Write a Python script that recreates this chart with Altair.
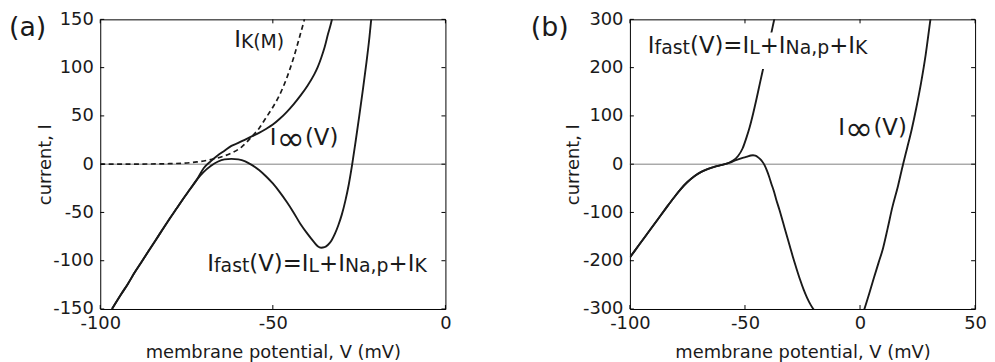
import altair as alt
import pandas as pd

# ---------------- data: panel (a) ----------------
A_XR = (-100, 0)
A_YR = (-150, 150)
A_XTICKS = [-100, -50, 0]
A_YTICKS = [-150, -100, -50, 0, 50, 100, 150]

a_shared_V = [-96.6, -94, -92, -90, -88, -86, -84, -82, -80, -78, -76, -74, -72]
a_shared_I = [-150, -135, -124, -112, -101, -90, -79, -68, -57, -46.5, -36, -26, -16]

a_fast_V = [-70, -68, -66, -64, -62, -60, -58, -56, -54, -52, -50, -48, -46, -44, -42, -40,
            -38, -37, -36, -35, -34, -33, -32, -31, -30, -29, -28, -27, -26, -25, -24, -23, -22, -21.5]
a_fast_I = [-8, -2, 2.5, 5, 5.5, 5, 3, -1, -6, -12.5, -20, -29, -39, -50, -62, -72,
            -81, -85, -86.5, -86, -83.5, -79, -72, -63, -52, -38, -21, 0, 24, 49, 75, 102, 132, 150]

a_inf_V = [-70, -68, -66, -64, -62, -60, -58, -56, -54, -52, -50, -48, -46, -44, -42, -40,
           -38, -37, -36, -35, -34, -33, -32.7]
a_inf_I = [-4, 3, 9, 14, 19, 22, 25.5, 29, 32.5, 36.5, 41, 47, 54, 62, 71, 81,
           93, 100.5, 110, 121, 135, 148, 153]

a_km_V = [-100, -90, -80, -76, -72, -68, -65, -62, -59, -56, -54, -52, -50, -48, -46, -44, -42, -41, -40.6]
a_km_I = [0, 0.1, 0.5, 1, 2.3, 4.8, 7.5, 11.5, 18, 29, 37, 48, 59, 72, 89, 110, 135, 148, 154]

# ---------------- data: panel (b) ----------------
B_XR = (-100, 50)
B_YR = (-300, 300)
B_XTICKS = [-100, -50, 0, 50]
B_YTICKS = [-300, -200, -100, 0, 100, 200, 300]

b_shared_V = [-100, -96, -92, -88, -84, -81, -78, -75, -72, -69, -66, -63, -60, -58]
b_shared_I = [-193, -167, -141, -115, -89, -70, -52, -37, -25, -16, -9.5, -5, -1.5, 1]

b_fast_V = [-56.5, -55, -53, -51, -49.5, -48, -46.5, -45, -43.5, -42, -40.5, -39, -37.5, -37]
b_fast_I = [4, 8, 17, 33, 53, 76, 104, 135, 168, 200, 232, 262, 295, 306]

b_inf_V = [-56.5, -55, -53, -51, -49, -47.5, -46.5, -45.5, -44.5, -43.5, -42.5, -41.5, -40.5, -39.5,
           -38.5, -37.5, -36.5, -35, -33.5, -32, -30.5, -29, -27.5, -26, -24.5, -23, -21.5, -20.3, -19]
b_inf_I = [3, 6.5, 10, 13, 15.5, 18, 18.5, 17.5, 15, 11, 5.5, -2, -13, -26,
           -41, -55, -72, -95, -120, -145, -170, -195, -218, -240, -260, -277, -291, -300, -310]

b_right_V = [0.5, 1.9, 4, 6, 8, 10, 12, 14, 16.5, 18.7, 20.5, 22.5, 24.5, 26.5, 28.5, 30.6, 31.2]
b_right_I = [-322, -300, -268, -236, -205, -174, -133, -90, -45, 0, 34, 73, 118, 168, 226, 300, 320]

# label anchors (data coordinates)
A_KM_ANCHOR = (-61.2, 121.2)
A_INF_ANCHOR = (-50.9, 20.3)
A_FAST_ANCHOR = (-69.0, -111)
B_FAST_ANCHOR = (-92.2, 230)
B_INF_ANCHOR = (-9.5, 59.6)
B_MASK = (-93, -27, 197, 273)  # white box behind the (b) label

# ---------------- styling ----------------
W, H = 348, 292
FONT = "DejaVu Sans"
INK = "#1a1a1a"
M, S, INF = 23, 19, 34

# DejaVu Sans advance widths (em)
ADV = {"I": 0.295, "f": 0.352, "a": 0.613, "s": 0.521, "t": 0.392, "(": 0.390, "V": 0.684,
       ")": 0.390, "=": 0.838, "L": 0.557, "+": 0.838, "N": 0.748, ",": 0.318, "p": 0.635,
       "K": 0.656, "M": 0.863}


def run(parts):
    """parts: (text, size, dy) laid out one after the other."""
    out, x = [], 0.0
    for t, fs, dy in parts:
        out.append((t, fs, x, dy))
        x += sum(ADV[c] for c in t) * fs
    return out


P_FAST = run([("I", M, 0), ("fast", S, 1), ("(V)=I", M, 0), ("L", S, 1), ("+I", M, 0),
              ("Na,p", S, 1), ("+I", M, 0), ("K", S, 1)])
P_KM = run([("I", M, 0), ("K(M)", S, 1)])
P_INF = [("I", M, 0, 0), ("\u221e", INF, 7, 5), ("(V)", M, 35.5, 0)]


def label_rows(anchor, pieces, xr, yr):
    kV = (xr[1] - xr[0]) / W
    kI = (yr[1] - yr[0]) / H
    return [dict(V=anchor[0] + dx * kV, I=anchor[1] - dy * kI, t=t, fs=fs) for t, fs, dx, dy in pieces]


def series(name, V, I):
    return pd.DataFrame({"V": V, "I": I, "s": name})


def panel(solid_df, dash_df, xr, yr, xticks, yticks, labels_df, tag, tag_x, ytitle_x, mask=None):
    xs = alt.Scale(domain=list(xr), nice=False, zero=False)
    ys = alt.Scale(domain=list(yr), nice=False, zero=False)
    xaxis = alt.Axis(values=xticks, title="membrane potential, V (mV)", grid=False, domain=False,
                     ticks=False, tickSize=0, labelFont=FONT, labelFontSize=18, labelColor=INK,
                     labelPadding=20, labelBaseline="alphabetic", labelFlush=False, labelOverlap=False,
                     labelExpr="datum.value + ''",
                     titleFont=FONT, titleFontSize=18, titleFontWeight="normal", titleColor=INK,
                     titleY=49, titleBaseline="alphabetic")
    yaxis = alt.Axis(values=yticks, title="current, I", grid=False, domain=False,
                     ticks=False, tickSize=0, labelFont=FONT, labelFontSize=18, labelColor=INK,
                     labelPadding=7, labelFlush=False, labelOverlap=False,
                     labelExpr="datum.value + ''",
                     titleFont=FONT, titleFontSize=18, titleFontWeight="normal", titleColor=INK,
                     titleX=ytitle_x, titleY=H / 2, titleAngle=-90, titleAlign="center",
                     titleBaseline="alphabetic")
    X = alt.X("V:Q", scale=xs, axis=xaxis)
    Y = alt.Y("I:Q", scale=ys, axis=yaxis)

    layers = []
    layers.append(alt.Chart(pd.DataFrame({"I": [0]})).mark_rule(color="#808080", strokeWidth=1)
                  .encode(y=Y, x=alt.value(0), x2=alt.value(W)))
    layers.append(alt.Chart(solid_df).mark_line(clip=True, color=INK, strokeWidth=1.9,
                                                interpolate="monotone")
                  .encode(x=X, y=Y, detail="s:N"))
    if dash_df is not None:
        layers.append(alt.Chart(dash_df).mark_line(clip=True, color=INK, strokeWidth=1.7,
                                                  strokeDash=[5, 3.5], interpolate="monotone")
                      .encode(x=X, y=Y, detail="s:N"))
    if mask is not None:
        mdf = pd.DataFrame({"V": [mask[0]], "V2": [mask[1]], "I": [mask[2]], "I2": [mask[3]]})
        layers.append(alt.Chart(mdf).mark_rect(color="white")
                      .encode(x=X, x2="V2:Q", y=Y, y2="I2:Q"))
    layers.append(alt.Chart(labels_df).mark_text(align="left", baseline="alphabetic", font=FONT,
                                                 color=INK)
                  .encode(x=X, y=Y, text="t:N", size=alt.Size("fs:Q", scale=None, legend=None)))
    xt = pd.DataFrame({"V": xticks})
    yt = pd.DataFrame({"I": yticks})
    layers.append(alt.Chart(xt).mark_rule(color="black", strokeWidth=1)
                  .encode(x=X, y=alt.value(H), y2=alt.value(H - 4)))
    layers.append(alt.Chart(xt).mark_rule(color="black", strokeWidth=1)
                  .encode(x=X, y=alt.value(0), y2=alt.value(4)))
    layers.append(alt.Chart(yt).mark_rule(color="black", strokeWidth=1)
                  .encode(y=Y, x=alt.value(0), x2=alt.value(4)))
    layers.append(alt.Chart(yt).mark_rule(color="black", strokeWidth=1)
                  .encode(y=Y, x=alt.value(W), x2=alt.value(W - 4)))
    layers.append(alt.Chart(pd.DataFrame({"t": [tag]})).mark_text(align="left", baseline="alphabetic",
                                                                 font=FONT, fontSize=27, color=INK)
                  .encode(x=alt.value(tag_x), y=alt.value(17), text="t:N"))
    return alt.layer(*layers).properties(width=W, height=H)


a_solid = pd.concat([
    series("fast", a_shared_V + a_fast_V, a_shared_I + a_fast_I),
    series("inf", a_shared_V + a_inf_V, a_shared_I + a_inf_I),
])
a_dash = series("km", a_km_V, a_km_I)
a_labels = pd.DataFrame(label_rows(A_KM_ANCHOR, P_KM, A_XR, A_YR)
                        + label_rows(A_INF_ANCHOR, P_INF, A_XR, A_YR)
                        + label_rows(A_FAST_ANCHOR, P_FAST, A_XR, A_YR))

b_solid = pd.concat([
    series("fast", b_shared_V + b_fast_V, b_shared_I + b_fast_I),
    series("inf1", b_shared_V + b_inf_V, b_shared_I + b_inf_I),
    series("inf2", b_right_V, b_right_I),
])
b_labels = pd.DataFrame(label_rows(B_FAST_ANCHOR, P_FAST, B_XR, B_YR)
                        + label_rows(B_INF_ANCHOR, P_INF, B_XR, B_YR))

pa = panel(a_solid, a_dash, A_XR, A_YR, A_XTICKS, A_YTICKS, a_labels, "(a)", -92, -50)
pb = panel(b_solid, None, B_XR, B_YR, B_XTICKS, B_YTICKS, b_labels, "(b)", -100, -52,
           mask=B_MASK)

chart = (alt.hconcat(pa, pb, spacing=78)
         .configure_view(stroke="black", strokeWidth=1)
         .properties(padding={"left": 0, "right": 0, "top": 0, "bottom": 0}))

chart.save("out.html", embed_options={"renderer": "svg", "actions": False})
